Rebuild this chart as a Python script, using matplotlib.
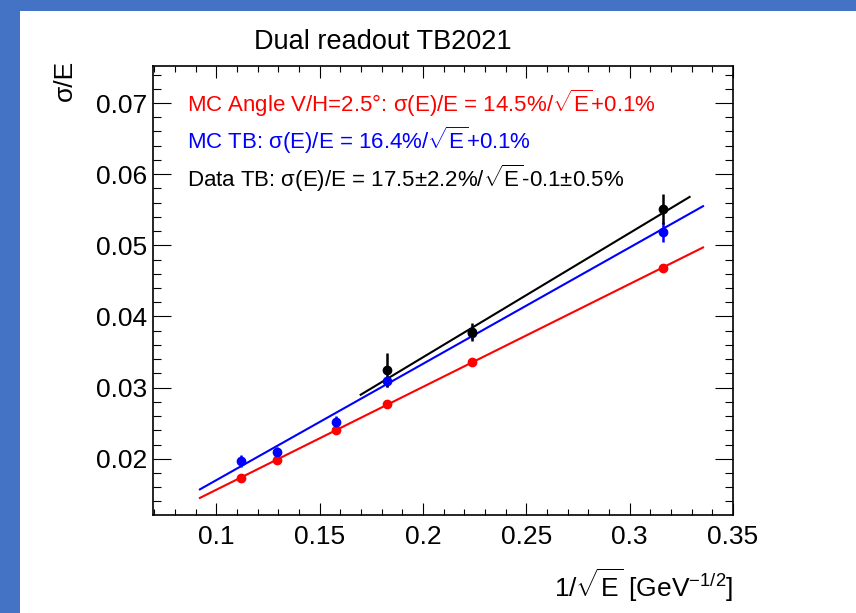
import numpy as np
import matplotlib
matplotlib.use('Agg')
from matplotlib import pyplot as plt
from matplotlib.ticker import MultipleLocator
from matplotlib.patches import Rectangle

plt.rcParams['font.family'] = ['Liberation Sans', 'DejaVu Sans']
plt.rcParams['mathtext.fontset'] = 'custom'
plt.rcParams['mathtext.rm'] = 'Liberation Sans'
plt.rcParams['mathtext.it'] = 'Liberation Sans:italic'

# 1/sqrt(E) for E = 80, 60, 40, 30, 20, 10 GeV
x_pts = [0.1118, 0.1291, 0.1581, 0.1826, 0.2236, 0.3162]
mc_angle = [0.0173, 0.0198, 0.0241, 0.0277, 0.0336, 0.0468]
mc_angle_err = [0.0002, 0.0002, 0.0002, 0.0002, 0.0002, 0.0002]
mc_tb = [0.0197, 0.0210, 0.0252, 0.0309, 0.0377, 0.0519]
mc_tb_err = [0.0008, 0.0007, 0.0008, 0.0008, 0.0009, 0.0014]
data_x = [0.1826, 0.2236, 0.3162]
data_tb = [0.0325, 0.0378, 0.0551]
data_tb_err = [0.0024, 0.0013, 0.0021]

# fit lines (end points)
fit_angle_x, fit_angle_y = [0.092, 0.3355], [0.0145, 0.0497]
fit_tb_x, fit_tb_y = [0.092, 0.3355], [0.0157, 0.0555]
fit_data_x, fit_data_y = [0.1698, 0.329], [0.0290, 0.0568]

fig = plt.figure(figsize=(8.56, 6.13), dpi=100)
fig.add_artist(Rectangle((0, 1 - 11/613), 1, 11/613, transform=fig.transFigure, color='#4472c4', lw=0))
fig.add_artist(Rectangle((0, 0), 20/856, 1, transform=fig.transFigure, color='#4472c4', lw=0))

ax = fig.add_axes([153/856, 1 - 515/613, 580/856, 449/613])

ax.plot(fit_angle_x, fit_angle_y, color='#ff0000', lw=1.5)
ax.plot(fit_tb_x, fit_tb_y, color='#0000ff', lw=1.5)
ax.plot(fit_data_x, fit_data_y, color='black', lw=1.5)

ax.errorbar(x_pts, mc_angle, yerr=mc_angle_err, fmt='o', color='#ff0000', ms=6, elinewidth=1.8, capsize=0)
ax.errorbar(x_pts, mc_tb, yerr=mc_tb_err, fmt='o', color='#0000ff', ms=6, elinewidth=1.8, capsize=0)
ax.errorbar(data_x, data_tb, yerr=data_tb_err, fmt='o', color='black', ms=6, elinewidth=1.8, capsize=0)

ax.set_xlim(0.0693, 0.35)
ax.set_ylim(0.0121, 0.0752)
ax.xaxis.set_major_locator(MultipleLocator(0.05))
ax.xaxis.set_minor_locator(MultipleLocator(0.01))
ax.yaxis.set_major_locator(MultipleLocator(0.01))
ax.yaxis.set_minor_locator(MultipleLocator(0.002))
ax.set_xticks([0.1, 0.15, 0.2, 0.25, 0.3, 0.35])
ax.set_xticklabels(['0.1', '0.15', '0.2', '0.25', '0.3', '0.35'])
ax.set_yticks([0.02, 0.03, 0.04, 0.05, 0.06, 0.07])
ax.set_yticklabels(['0.02', '0.03', '0.04', '0.05', '0.06', '0.07'])
ax.tick_params(which='both', direction='in', top=True, right=True, width=0.8, labelsize=19)
ax.tick_params(axis='x', which='major', length=8.6, pad=7)
ax.tick_params(axis='x', which='minor', length=4.3)
ax.tick_params(axis='y', which='major', length=13, pad=4)
ax.tick_params(axis='y', which='minor', length=6)
for s in ax.spines.values():
    s.set_linewidth(1.2)

sq = r'$\sqrt{\mathrm{E}}$'
ax.text(0.0858, 0.0700, 'MC Angle V/H=2.5°: σ(E)/E = 14.5%/' + sq + '+0.1%', color='#ff0000', fontsize=16, va='center')
ax.text(0.0858, 0.0647, 'MC TB: σ(E)/E = 16.4%/' + sq + '+0.1%', color='#0000ff', fontsize=16, va='center')
ax.text(0.0858, 0.0594, 'Data TB: σ(E)/E = 17.5±2.2%/' + sq + '-0.1±0.5%', color='black', fontsize=16, va='center')

fig.text(383/856, 1 - 42/613, 'Dual readout TB2021', fontsize=19.5, ha='center', va='center')
fig.text(65/856, 1 - 80/613, 'σ/E', fontsize=19, rotation=90, ha='center', va='center')
fig.text(733/856, 1 - 585/613, '1/' + sq + ' [GeV$^{\\mathrm{-1/2}}$]', fontsize=19, ha='right', va='center')

fig.savefig('out.png', dpi=100)
